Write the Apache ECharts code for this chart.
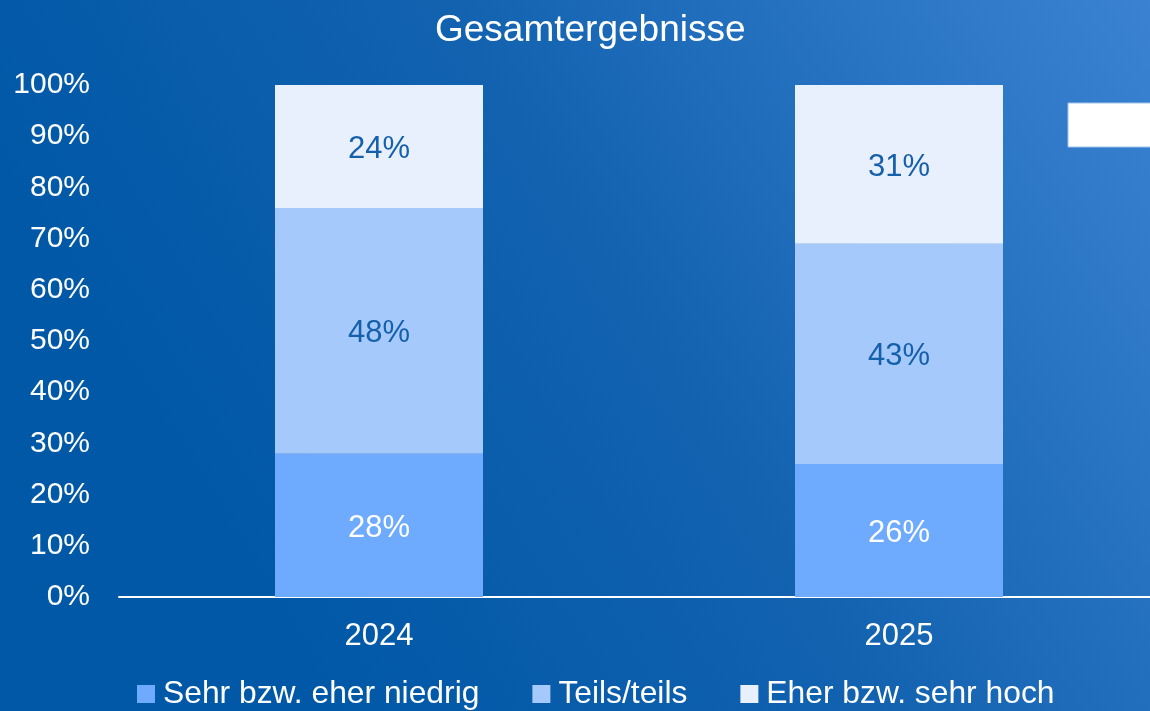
<!DOCTYPE html>
<html>
<head>
<meta charset="utf-8">
<script src="https://cdn.jsdelivr.net/npm/echarts@6/dist/echarts.min.js"></script>
<style>
html,body{margin:0;padding:0;background:#0058a6;overflow:hidden;width:1150px;height:711px;}
#chart{width:1159px;height:711px;}
</style>
</head>
<body>
<div id="chart"></div>
<script>
const categories = ['2024', '2025'];
const seriesNames = ['Sehr bzw. eher niedrig', 'Teils/teils', 'Eher bzw. sehr hoch'];
const niedrig = [28, 26];
const teils = [48, 43];
const hoch = [24, 31];
const yTicks = [0, 10, 20, 30, 40, 50, 60, 70, 80, 90, 100];

const colors = ['#6eabff', '#a6c9fc', '#e8f0fe'];
const labelColors = ['#ffffff', '#1560ab', '#1560ab'];
const font = 'Liberation Sans, Arial, sans-serif';

const chart = echarts.init(document.getElementById('chart'));
const dataSets = [niedrig, teils, hoch];

const series = dataSets.map((d, i) => ({
  name: seriesNames[i],
  type: 'bar',
  stack: 'total',
  barWidth: '40%',
  data: d,
  itemStyle: { color: colors[i] },
  label: {
    show: true,
    position: 'inside',
    offset: [0, 3],
    formatter: p => p.value + '%',
    color: labelColors[i],
    fontSize: 31,
    fontFamily: font
  },
  emphasis: { disabled: true }
}));

chart.setOption({
  animation: false,
  backgroundColor: new echarts.graphic.LinearGradient(1, 0, 0, 1, [
    { offset: 0, color: '#3b83d2' },
    { offset: 0.45, color: '#1262b0' },
    { offset: 0.8, color: '#0058a6' },
    { offset: 1, color: '#0058a6' }
  ]),
  title: {
    text: 'Gesamtergebnisse',
    left: 430,
    top: 7,
    textStyle: { color: '#ffffff', fontSize: 37, fontWeight: 'normal', fontFamily: font }
  },
  legend: {
    data: seriesNames,
    bottom: -4,
    left: 132,
    itemWidth: 18,
    itemHeight: 18,
    itemGap: 53,
    icon: 'rect',
    textStyle: { color: '#ffffff', fontSize: 31.8, fontFamily: font, padding: [0, 0, 0, 3] }
  },
  grid: { left: 119, right: 0, top: 85, bottom: 114, containLabel: false },
  xAxis: {
    type: 'category',
    data: categories,
    axisLine: { lineStyle: { color: '#ffffff', width: 2 } },
    axisTick: { show: false },
    axisLabel: { color: '#ffffff', fontSize: 31, fontFamily: font, margin: 24 }
  },
  yAxis: {
    type: 'value',
    min: yTicks[0],
    max: yTicks[yTicks.length - 1],
    interval: 10,
    axisLine: { show: false },
    axisTick: { show: false },
    splitLine: { show: false },
    axisLabel: { color: '#ffffff', fontSize: 30, fontFamily: font, margin: 29, formatter: v => v + '%' }
  },
  graphic: [{
    type: 'rect',
    shape: { x: 1068, y: 103, width: 100, height: 44 },
    style: { fill: '#ffffff', stroke: '#9fc3f0', lineWidth: 1 }
  }],
  series: series
});
</script>
</body>
</html>
